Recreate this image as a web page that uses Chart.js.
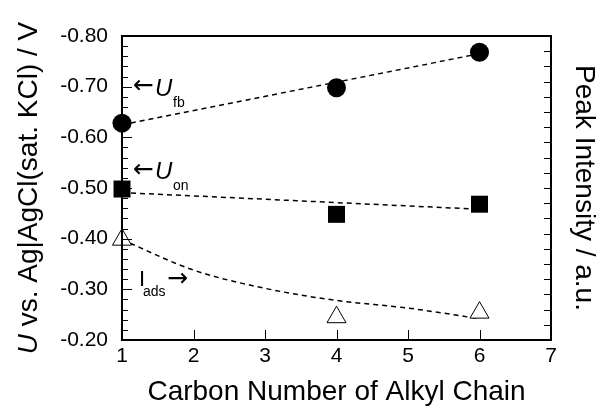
<!DOCTYPE html>
<html>
<head>
<meta charset="utf-8">
<script src="https://cdn.jsdelivr.net/npm/chart.js@4.4.1/dist/chart.umd.min.js"></script>
<style>
  html, body { margin: 0; padding: 0; background: #fff; }
  #c { display: block; }
</style>
</head>
<body>
<canvas id="c" width="597" height="408"></canvas>
<script>
// carbon numbers of the alkyl chain
const carbonNumbers = [1, 4, 6];

// flat band potential U_fb and onset potential U_on (V vs. Ag|AgCl)
const uFb = [-0.628, -0.698, -0.768];
const uOn = [-0.498, -0.448, -0.468];

// adsorption peak intensity (a.u., right axis)
const iAds = [6.6, 1.5, 1.8];

// dashed guide lines
const fbLineX = [1, 6];
const fbLineY = [-0.625, -0.765];
const onLineX = [1, 6];
const onLineY = [-0.491, -0.458];
const adsLineX = [1, 2, 3, 4, 5, 6];
const adsLineY = [6.6, 4.6, 3.4, 2.6, 2.1, 1.4];

const xTicks = [1, 2, 3, 4, 5, 6, 7];
const FONT = '"Liberation Sans", Arial, "DejaVu Sans", sans-serif';
const ARROW_FONT = '"DejaVu Sans", sans-serif';

function pts(xs, ys) {
    return xs.map((x, i) => ({ x: x, y: ys[i] }));
}

// frame, inward ticks, left title and labels
const decor = {
    id: 'decor',
    afterDraw(chart) {
        const ctx = chart.ctx;
        const a = chart.chartArea;
        const xs = chart.scales.x;
        const ys = chart.scales.y;
        const y2 = chart.scales.y2;
        ctx.save();
        ctx.strokeStyle = '#000';
        ctx.lineWidth = 1;

        // left ticks every 0.02, long every 0.1
        for (let i = 0; i <= 30; i++) {
            const v = -0.80 + i * 0.02;
            const py = Math.round(ys.getPixelForValue(v)) + 0.5;
            const len = i % 5 === 0 ? 10 : 6;
            ctx.beginPath();
            ctx.moveTo(a.left, py);
            ctx.lineTo(a.left + len, py);
            ctx.stroke();
        }
        // right ticks
        for (let i = 1; i < 20; i++) {
            const py = Math.round(y2.getPixelForValue(i)) + 0.5;
            ctx.beginPath();
            ctx.moveTo(a.right, py);
            ctx.lineTo(a.right - 7, py);
            ctx.stroke();
        }
        // bottom ticks
        xTicks.forEach(t => {
            const px = Math.round(xs.getPixelForValue(t)) + 0.5;
            ctx.beginPath();
            ctx.moveTo(px, a.bottom);
            ctx.lineTo(px, a.bottom - 10);
            ctx.stroke();
        });

        // frame
        ctx.lineWidth = 2;
        ctx.strokeRect(a.left, a.top, a.right - a.left, a.bottom - a.top);

        // left axis title with italic U
        const t1 = 'U';
        const t2 = ' vs. Ag|AgCl(sat. KCl) / V';
        ctx.font = 'italic 28px ' + FONT;
        const w1 = ctx.measureText(t1).width;
        ctx.font = '28px ' + FONT;
        const w2 = ctx.measureText(t2).width;
        ctx.translate(37, (a.top + a.bottom) / 2);
        ctx.rotate(-Math.PI / 2);
        ctx.fillStyle = '#000';
        ctx.textBaseline = 'alphabetic';
        ctx.textAlign = 'left';
        let sx = -(w1 + w2) / 2;
        ctx.font = 'italic 28px ' + FONT;
        ctx.fillText(t1, sx, 0);
        ctx.font = '28px ' + FONT;
        ctx.fillText(t2, sx + w1, 0);
        ctx.restore();

        // series labels
        ctx.save();
        ctx.fillStyle = '#000';
        ctx.textAlign = 'left';
        const x0 = xs.getPixelForValue(1);
        function label(yPix, sub) {
            ctx.textBaseline = 'middle';
            ctx.font = '25px ' + ARROW_FONT;
            ctx.fillText('\u2190', x0 + 11, yPix);
            ctx.textBaseline = 'alphabetic';
            ctx.font = 'italic 24px ' + FONT;
            ctx.fillText('U', x0 + 33, yPix + 9);
            ctx.font = '14px ' + FONT;
            ctx.fillText(sub, x0 + 51, yPix + 20);
        }
        label(ys.getPixelForValue(-0.70), 'fb');
        label(ys.getPixelForValue(-0.535), 'on');
        const yI = ys.getPixelForValue(-0.32);
        ctx.textBaseline = 'alphabetic';
        ctx.font = '22px ' + FONT;
        ctx.fillText('I', x0 + 17, yI + 7);
        ctx.font = '14px ' + FONT;
        ctx.fillText('ads', x0 + 21, yI + 17);
        ctx.textBaseline = 'middle';
        ctx.font = '25px ' + ARROW_FONT;
        ctx.fillText('\u2192', x0 + 45, yI);
        ctx.restore();
    }
};

const dashed = {
    borderColor: '#000',
    borderWidth: 1.5,
    borderDash: [5, 4],
    pointRadius: 0,
    showLine: true,
    clip: false
};

new Chart(document.getElementById('c'), {
    type: 'scatter',
    data: {
        datasets: [
            {
                label: 'U_fb',
                data: pts(carbonNumbers, uFb),
                yAxisID: 'y',
                pointStyle: 'circle',
                pointRadius: 9.5,
                backgroundColor: '#000',
                borderColor: '#000',
                borderWidth: 0,
                clip: false
            },
            {
                label: 'U_on',
                data: pts(carbonNumbers, uOn),
                yAxisID: 'y',
                pointStyle: 'rect',
                pointRadius: 12,
                backgroundColor: '#000',
                borderColor: '#000',
                borderWidth: 0,
                clip: false
            },
            {
                label: 'I_ads',
                data: pts(carbonNumbers, iAds),
                yAxisID: 'y2',
                pointStyle: 'triangle',
                pointRadius: 11,
                backgroundColor: '#fff',
                borderColor: '#000',
                borderWidth: 1,
                clip: false
            },
            Object.assign({ data: pts(fbLineX, fbLineY), yAxisID: 'y' }, dashed),
            Object.assign({ data: pts(onLineX, onLineY), yAxisID: 'y' }, dashed),
            Object.assign({ data: pts(adsLineX, adsLineY), yAxisID: 'y2', cubicInterpolationMode: 'monotone' }, dashed)
        ]
    },
    options: {
        responsive: false,
        animation: false,
        layout: { padding: { top: 36, left: 0, right: 0, bottom: 0 } },
        plugins: { legend: { display: false }, tooltip: { enabled: false } },
        scales: {
            x: {
                type: 'linear',
                min: 1,
                max: 7,
                afterFit: s => { s.height = 68; },
                afterBuildTicks: s => { s.ticks = xTicks.map(v => ({ value: v })); },
                grid: { display: false, drawTicks: false },
                border: { display: false },
                ticks: { color: '#000', padding: 4, font: { family: FONT, size: 21 } },
                title: {
                    display: true,
                    text: 'Carbon Number of Alkyl Chain',
                    color: '#000',
                    padding: 0,
                    font: { family: FONT, size: 28, lineHeight: 1.1 }
                }
            },
            y: {
                position: 'left',
                reverse: true,
                min: -0.80,
                max: -0.20,
                afterFit: s => { s.width = 122; },
                grid: { display: false, drawTicks: false },
                border: { display: false },
                ticks: {
                    stepSize: 0.1,
                    color: '#000',
                    padding: 14,
                    font: { family: FONT, size: 21 },
                    callback: v => v.toFixed(2)
                }
            },
            y2: {
                position: 'right',
                min: 0,
                max: 20,
                afterFit: s => { s.width = 46; },
                grid: { display: false, drawTicks: false },
                border: { display: false },
                ticks: { display: false },
                title: {
                    display: true,
                    text: 'Peak Intensity / a.u.',
                    color: '#000',
                    padding: 0,
                    font: { family: FONT, size: 28, lineHeight: 0.93 }
                }
            }
        }
    },
    plugins: [decor]
});
</script>
</body>
</html>
